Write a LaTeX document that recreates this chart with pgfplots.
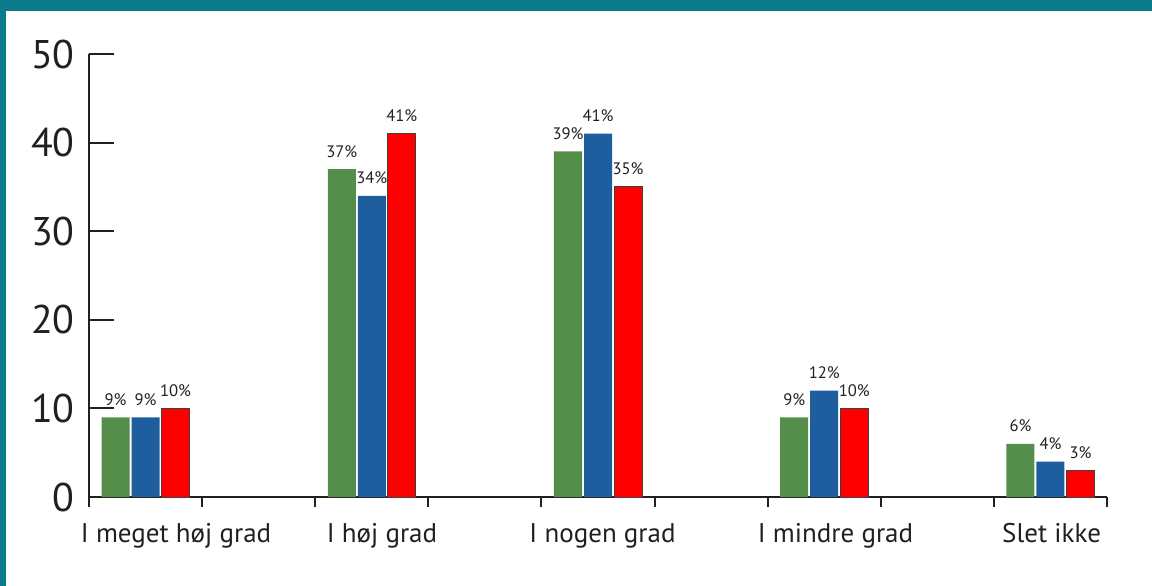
\documentclass[border=0pt]{standalone}
\usepackage{fontspec}
\setmainfont{PT Sans}
\usepackage{pgfplots}
\pgfplotsset{compat=1.18}
\definecolor{tealbar}{HTML}{0B7A8A}
\definecolor{axisgray}{HTML}{231F20}
\definecolor{grn}{HTML}{548E4A}
\definecolor{blu}{HTML}{1E5E9E}
\definecolor{rd}{HTML}{FF0000}

\begin{document}
\begin{tikzpicture}
\useasboundingbox (0,0) rectangle (576bp,293bp);
\fill[tealbar] (0,287.5bp) rectangle (576bp,293bp);
\fill[tealbar] (0,0) rectangle (3bp,293bp);
\begin{axis}[
  at={(44.5bp,44.5bp)}, anchor=south west,
  scale only axis, width=509bp, height=221.5bp,
  xmin=0, xmax=9, ymin=0, ymax=50,
  axis x line=bottom, axis y line=left,
  axis line style={-, line width=1bp, color=axisgray},
  tick align=inside,
  tick style={line width=1bp, color=axisgray},
  major tick length=5bp,
  xtick={0,...,9}, xticklabels={},
  ytick={0,10,...,50},
  ytick style={/pgfplots/major tick length=12.5bp},
  extra x ticks={0.77,2.59,4.54,6.60,8.51},
  extra x tick labels={I meget høj grad, I høj grad, I nogen grad, I mindre grad, Slet ikke},
  extra x tick style={major tick length=0pt},
  /pgf/number format/assume math mode=true,
  yticklabel style={anchor=east, inner sep=0pt, xshift=-7bp,
    font=\fontsize{20bp}{24bp}\selectfont, text=axisgray},
  xticklabel style={anchor=base, inner sep=0pt, yshift=-22.5bp,
    font=\fontsize{13.5bp}{16bp}\selectfont, text=axisgray},
  ybar=1bp, bar width=0.2476,
  nodes near coords={\pgfmathprintnumber{\pgfplotspointmeta}\%},
  every node near coord/.append style={font=\fontsize{8.3bp}{10bp}\selectfont,
    anchor=base, inner sep=0pt, yshift=6bp, text=axisgray},
  clip=false,
]
\addplot[fill=grn, draw=none] coordinates {(0.5,9) (2.5,37) (4.5,39) (6.5,9) (8.5,6)};
\addplot[fill=blu, draw=none] coordinates {(0.5,9) (2.5,34) (4.5,41) (6.5,12) (8.5,4)};
\addplot[fill=rd, draw=black!75, line width=0.5bp] coordinates {(0.5,10) (2.5,41) (4.5,35) (6.5,10) (8.5,3)};
\end{axis}
\end{tikzpicture}
\end{document}
